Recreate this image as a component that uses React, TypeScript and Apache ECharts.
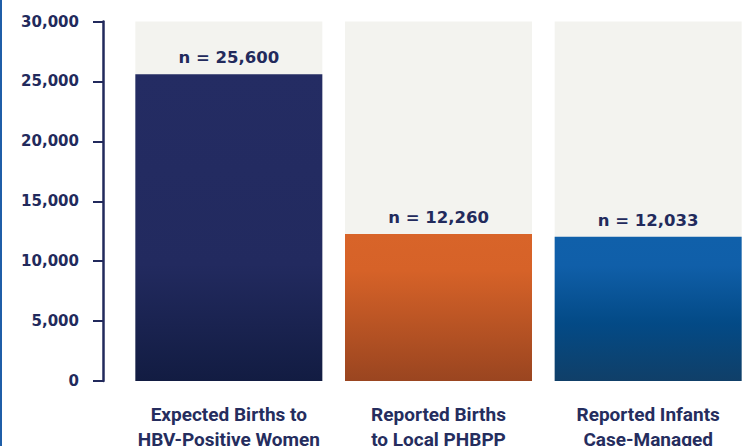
import React, { useEffect, useRef } from "react";
import * as echarts from "echarts";

const categories = [
  "Expected Births to\nHBV-Positive Women",
  "Reported Births\nto Local PHBPP",
  "Reported Infants\nCase-Managed",
];
const values = [25600, 12260, 12033];
const valueLabels = ["n = 25,600", "n = 12,260", "n = 12,033"];
const yTicks = [0, 5000, 10000, 15000, 20000, 25000, 30000];

const navy = "#222a5c";
const gradients = [
  [
    { offset: 0, color: "#242c63" },
    { offset: 0.62, color: "#222a5f" },
    { offset: 1, color: "#121c42" },
  ],
  [
    { offset: 0, color: "#d86429" },
    { offset: 0.25, color: "#d66228" },
    { offset: 1, color: "#9a4520" },
  ],
  [
    { offset: 0, color: "#1060aa" },
    { offset: 0.2, color: "#105fa9" },
    { offset: 0.6, color: "#034a86" },
    { offset: 1, color: "#103f68" },
  ],
];

export default function App() {
  const ref = useRef<HTMLDivElement>(null);
  useEffect(() => {
    if (!ref.current) return;
    const chart = echarts.init(ref.current, undefined, { renderer: "svg" });
    chart.setOption({
      animation: false,
      backgroundColor: "#ffffff",
      grid: {
        left: 124,
        right: -10,
        top: 21.5,
        bottom: 65,
        containLabel: false,
        outerBoundsMode: "none",
      },
      xAxis: {
        type: "category",
        data: categories,
        axisLine: { show: false },
        axisTick: { show: false },
        axisLabel: {
          margin: 21,
          color: "#252d5e",
          fontFamily: "'Liberation Sans Narrow', 'Roboto', sans-serif",
          fontWeight: "bold",
          fontSize: 19,
          lineHeight: 25,
          interval: 0,
        },
      },
      yAxis: {
        type: "value",
        min: yTicks[0],
        max: yTicks[yTicks.length - 1],
        interval: yTicks[1] - yTicks[0],
        offset: 21,
        splitLine: { show: false },
        axisLine: { show: true, lineStyle: { color: navy, width: 2.5 } },
        axisTick: { show: true, length: 10, lineStyle: { color: navy, width: 2 } },
        axisLabel: {
          margin: 24,
          color: navy,
          fontFamily: "'DejaVu Sans', sans-serif",
          fontWeight: "bold",
          fontSize: 15,
          formatter: (v: number) => v.toLocaleString("en-US"),
        },
      },
      series: [
        {
          type: "bar",
          barWidth: 187,
          showBackground: true,
          backgroundStyle: { color: "#f3f3ef" },
          data: values.map((v, i) => ({
            value: v,
            itemStyle: {
              color: new echarts.graphic.LinearGradient(0, 0, 0, 1, gradients[i]),
            },
            label: { formatter: valueLabels[i] },
          })),
          label: {
            show: true,
            position: "top",
            distance: 8,
            color: navy,
            fontFamily: "'DejaVu Sans', sans-serif",
            fontWeight: "bold",
            fontSize: 16.5,
          },
        },
      ],
      graphic: [
        {
          type: "rect",
          shape: { x: 0, y: 0, width: 2, height: 446 },
          style: { fill: "#1f5ea8" },
        },
      ],
    });
    return () => chart.dispose();
  }, []);
  return (
    <div
      ref={ref}
      style={{ position: "fixed", left: 0, top: 0, width: 743, height: 446 }}
    />
  );
}
